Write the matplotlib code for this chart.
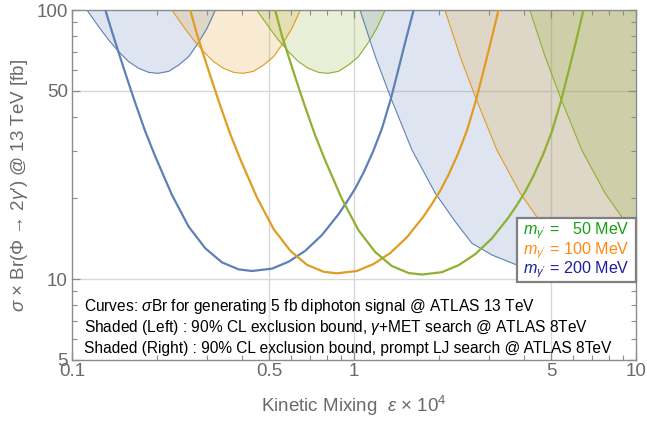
import matplotlib
matplotlib.use('Agg')
import matplotlib.pyplot as plt
from matplotlib.patches import Rectangle

plt.rcParams['font.family'] = ['Liberation Sans', 'DejaVu Sans']
plt.rcParams['mathtext.fontset'] = 'custom'
plt.rcParams['mathtext.rm'] = 'Liberation Sans'
plt.rcParams['mathtext.it'] = 'Liberation Sans:italic'
plt.rcParams['mathtext.fallback'] = 'stixsans'

# ---- data ----
# solid curves: sigma*Br needed for a 5 fb diphoton signal
blue_cx = [0.1313, 0.1386, 0.1464, 0.1567, 0.1678, 0.1820, 0.1975, 0.2262, 0.2593, 0.2971, 0.3403, 0.3900,
           0.4348, 0.5120, 0.5867, 0.6721, 0.7701, 0.8824, 0.9444, 1.0110, 1.0822, 1.1679, 1.2571, 1.3526,
           1.4400, 1.5207, 1.6275]
blue_cy = [100, 83.08, 69.40, 55.70, 44.98, 35.30, 28.50, 20.53, 15.65, 13.00, 11.53, 10.86,
           10.71, 10.93, 11.60, 12.74, 14.58, 17.44, 19.39, 21.73, 24.92, 29.74, 36.32, 46.96,
           60.70, 76.26, 100]
orange_cx = [0.2626, 0.2773, 0.2928, 0.3134, 0.3355, 0.3640, 0.3949, 0.4524, 0.5186, 0.5942, 0.6806, 0.7799,
             0.8697, 1.0239, 1.1731, 1.3441, 1.5402, 1.7648, 1.8889, 2.0219, 2.1643, 2.3359, 2.5141, 2.7052,
             2.8799, 3.0413, 3.2549]
orange_cy = [100, 81.42, 68.01, 54.59, 44.08, 34.59, 27.93, 20.12, 15.34, 12.74, 11.30, 10.64,
             10.50, 10.71, 11.37, 12.49, 14.29, 17.09, 19.00, 21.30, 24.42, 29.15, 35.59, 46.02,
             59.49, 74.73, 100]
green_cx = [0.5252, 0.5546, 0.5856, 0.6268, 0.6710, 0.7280, 0.7898, 0.9048, 1.0372, 1.1884, 1.3612, 1.5598,
            1.7394, 2.0478, 2.3462, 2.6882, 3.0804, 3.5296, 3.7778, 4.0438, 4.3286, 4.6718, 5.0282, 5.4104,
            5.7598, 6.0826, 6.5098]
green_cy = [100, 80.59, 67.31, 54.03, 43.63, 34.24, 27.65, 19.91, 15.18, 12.61, 11.18, 10.53,
            10.39, 10.60, 11.25, 12.36, 14.14, 16.92, 18.81, 21.08, 24.17, 28.85, 35.23, 45.55,
            58.88, 73.97, 100]

# left shaded bounds (gamma+MET search)
blue_lx = [0.11298, 0.12433, 0.13490, 0.14640, 0.15886, 0.17234, 0.18700, 0.20181, 0.22025, 0.23894,
           0.25929, 0.27972, 0.30115, 0.32245]
blue_ly = [100, 86.70, 77.36, 69.99, 64.27, 60.70, 58.65, 58.15, 59.16, 62.45, 67.08, 75.16, 85.47, 100]
orange_lx = [0.22596, 0.24866, 0.26980, 0.29280, 0.31772, 0.34468, 0.37400, 0.40362, 0.44050, 0.47788,
             0.51858, 0.55944, 0.60230, 0.64490]
orange_ly = [100, 86.70, 77.36, 69.99, 64.27, 60.70, 58.65, 58.15, 59.16, 62.45, 67.08, 75.16, 85.47, 100]
green_lx = [0.45192, 0.49732, 0.53960, 0.58560, 0.63544, 0.68936, 0.74800, 0.80724, 0.88100, 0.95576,
            1.03716, 1.11888, 1.20460, 1.28980]
green_ly = [100, 86.70, 77.36, 69.99, 64.27, 60.70, 58.65, 58.15, 59.16, 62.45, 67.08, 75.16, 85.47, 100]

# right shaded bounds (prompt lepton-jet search)
blue_rx = [1.0502, 1.1903, 1.3526, 1.6057, 1.9430, 2.2873, 2.6206, 3.0867, 3.7845, 5.1763, 7.7856, 10.22]
blue_ry = [100, 67.08, 46.96, 30.17, 20.82, 16.33, 13.57, 12.28, 11.27, 10.44, 10.06, 9.97]
orange_rx = [2.1004, 2.3806, 2.7052, 3.2114, 3.8860, 4.5746, 5.2412, 6.1734, 7.5690, 10.353]
orange_ry = [100, 67.08, 46.96, 30.17, 20.82, 16.33, 13.57, 12.28, 11.27, 10.44]
green_rx = [4.2008, 4.7612, 5.4104, 6.4228, 7.7720, 9.1492, 10.4824]
green_ry = [100, 67.08, 46.96, 30.17, 20.82, 16.33, 13.57]

xticks = [0.1, 0.5, 1, 5, 10]
xticklabels = ['0.1', '0.5', '1', '5', '10']
yticks = [5, 10, 50, 100]
yticklabels = ['5', '10', '50', '100']

legend_labels = ["$m_{\\gamma'}$ =   50 MeV", "$m_{\\gamma'}$ = 100 MeV", "$m_{\\gamma'}$ = 200 MeV"]
legend_colors = ['#14a014', '#ff8a12', '#1e1e9e']

notes = ["Curves: $\\sigma$Br for generating 5 fb diphoton signal @ ATLAS 13 TeV",
         "Shaded (Left) : 90% CL exclusion bound, $\\gamma$+MET search @ ATLAS 8TeV",
         "Shaded (Right) : 90% CL exclusion bound, prompt LJ search @ ATLAS 8TeV"]

BLUE, ORANGE, GREEN = '#5E81B5', '#E19C24', '#8FB032'

W, H = 647, 424
fig = plt.figure(figsize=(W / 100, H / 100), dpi=100)
L, R, T, B = 72, 636, 10, 360
ax = fig.add_axes([L / W, 1 - B / H, (R - L) / W, (B - T) / H])
ax.set_xscale('log')
ax.set_yscale('log')

# grid
for gx in [0.5, 1, 5]:
    ax.axvline(gx, color='#d8d8d8', lw=1.0, zorder=0)
for gy in [10, 50]:
    ax.axhline(gy, color='#d8d8d8', lw=1.0, zorder=0)

# shaded regions
for xs, ys, c in [(blue_lx, blue_ly, BLUE), (orange_lx, orange_ly, ORANGE), (green_lx, green_ly, GREEN),
                  (blue_rx, blue_ry, BLUE), (orange_rx, orange_ry, ORANGE), (green_rx, green_ry, GREEN)]:
    ax.fill_between(xs, ys, 200, color=c, alpha=0.2, lw=0, zorder=1)
    ax.plot(xs, ys, color=c, lw=0.8, zorder=2)

# curves
for xs, ys, c in [(blue_cx, blue_cy, BLUE), (orange_cx, orange_cy, ORANGE), (green_cx, green_cy, GREEN)]:
    ax.plot(xs, ys, color=c, lw=1.6, zorder=3, solid_joinstyle='round')

ax.set_xlim(0.1, 10)
ax.set_ylim(5, 100)

ax.set_xticks(xticks)
ax.set_xticklabels(xticklabels)
ax.set_yticks(yticks)
ax.set_yticklabels(yticklabels)
ax.tick_params(which='both', direction='in', top=True, right=True, color='#8c8c8c',
               labelcolor='#6a6a6a', labelsize=13.5)
ax.tick_params(which='major', length=6, width=0.9)
ax.tick_params(which='minor', length=3.5, width=0.8)
ax.tick_params(axis='x', pad=2)
ax.tick_params(axis='y', pad=3)
for s in ax.spines.values():
    s.set_color('#8c8c8c')
    s.set_linewidth(1.0)

ax.set_xlabel("Kinetic Mixing  $\\epsilon$ × 10$^4$", fontsize=13.5, color='#6a6a6a', labelpad=10)
ax.set_ylabel("$\\sigma$ × Br(Φ → 2$\\gamma$′) @ 13 TeV [fb]", fontsize=13.5, color='#6a6a6a', labelpad=5)

# notes
for i, t in enumerate(notes):
    fig.text(84 / W, 1 - (307 + 20.5 * i) / H, t, fontsize=11.2, color='black', va='center', ha='left')

# legend box
lx0, ly0, lx1, ly1 = 517, 218, 636, 282
fig.patches.append(Rectangle((lx0 / W, 1 - ly1 / H), (lx1 - lx0) / W, (ly1 - ly0) / H,
                             transform=fig.transFigure, facecolor='white', edgecolor='#808080', lw=1.6, zorder=5))
for i, (t, c) in enumerate(zip(legend_labels, legend_colors)):
    fig.text(523 / W, 1 - (231 + 19.5 * i) / H, t, fontsize=11.6, color=c, va='center', ha='left', zorder=6)

fig.savefig('out.png', dpi=100)
